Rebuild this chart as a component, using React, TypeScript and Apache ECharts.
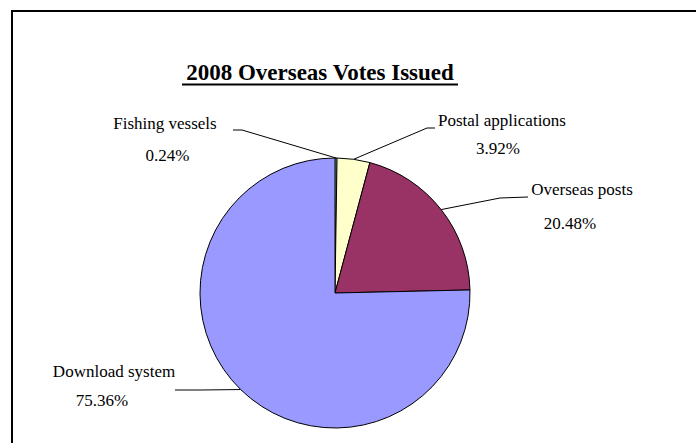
import React, { useEffect, useRef } from "react";
import * as echarts from "echarts";

const categories = ["Fishing vessels", "Postal applications", "Overseas posts", "Download system"];
const values = [0.24, 3.92, 20.48, 75.36];
const colors = ["#CCFFFF", "#FFFFCC", "#993366", "#9999FF"];
const titleText = "2008 Overseas Votes Issued";

// label layout: centre of two-line label, line height, percent-line shift, leader line bend + end points
const labelLayouts = [
  { x: 165, y: 139, lh: 32, shift: 2.5, p1: [242, 130], p2: [233, 130] },
  { x: 502, y: 134, lh: 28, shift: -4, p1: [427, 128], p2: [435, 128] },
  { x: 582, y: 206, lh: 34, shift: -12, p1: [500, 198], p2: [528, 197] },
  { x: 114, y: 386, lh: 29, shift: -12, p1: [200, 390], p2: [175, 390] },
];

export default function App() {
  const ref = useRef<HTMLDivElement>(null);
  useEffect(() => {
    if (!ref.current) return;
    const chart = echarts.init(ref.current, null, { renderer: "svg" });
    const font = "Liberation Serif, Times New Roman, serif";
    chart.setOption({
      animation: false,
      backgroundColor: "#ffffff",
      graphic: [
        {
          type: "polyline",
          shape: { points: [[12, 460], [12, 11], [720, 11]] },
          style: { stroke: "#000", lineWidth: 2, fill: "none" },
          silent: true,
        },
        {
          type: "text",
          x: 320,
          y: 72,
          style: {
            text: titleText,
            font: `bold 23px ${font}`,
            fill: "#000",
            align: "center",
            verticalAlign: "middle",
          },
          silent: true,
        },
        {
          type: "line",
          shape: { x1: 182, y1: 84.5, x2: 458, y2: 84.5 },
          style: { stroke: "#000", lineWidth: 2 },
          silent: true,
        },
      ],
      series: [
        {
          type: "pie",
          center: [335, 293],
          radius: 135,
          startAngle: 90,
          clockwise: true,
          avoidLabelOverlap: false,
          silent: true,
          emphasis: { disabled: true },
          itemStyle: { borderColor: "#000", borderWidth: 1 },
          label: {
            show: true,
            position: "outside",
            formatter: "{n|{b}}\n{p|{d}%}",
            color: "#000",
            fontFamily: font,
            fontSize: 17,
            align: "center",
          },
          labelLine: {
            show: true,
            length: 10,
            length2: 10,
            lineStyle: { color: "#000", width: 1 },
          },
          labelLayout: (params: any) => {
            const l = labelLayouts[params.dataIndex];
            const pts = params.labelLinePoints;
            const p0 = pts && pts[0] ? pts[0] : l.p1;
            return {
              x: l.x,
              y: l.y,
              align: "center",
              verticalAlign: "middle",
              labelLinePoints: [p0, l.p1, l.p2],
            };
          },
          data: categories.map((name, i) => {
            const l = labelLayouts[i];
            const pad = l.shift < 0 ? [0, -2 * l.shift, 0, 0] : [0, 0, 0, 2 * l.shift];
            return {
              name,
              value: values[i],
              itemStyle: { color: colors[i] },
              label: {
                rich: {
                  n: { fontFamily: font, fontSize: 17, color: "#000", lineHeight: l.lh },
                  p: { fontFamily: font, fontSize: 17, color: "#000", lineHeight: l.lh, padding: pad },
                },
              },
            };
          }),
        },
      ],
    });
    return () => chart.dispose();
  }, []);
  return (
    <div
      ref={ref}
      style={{ position: "fixed", left: 0, top: 0, width: 696, height: 443, background: "#fff" }}
    />
  );
}
